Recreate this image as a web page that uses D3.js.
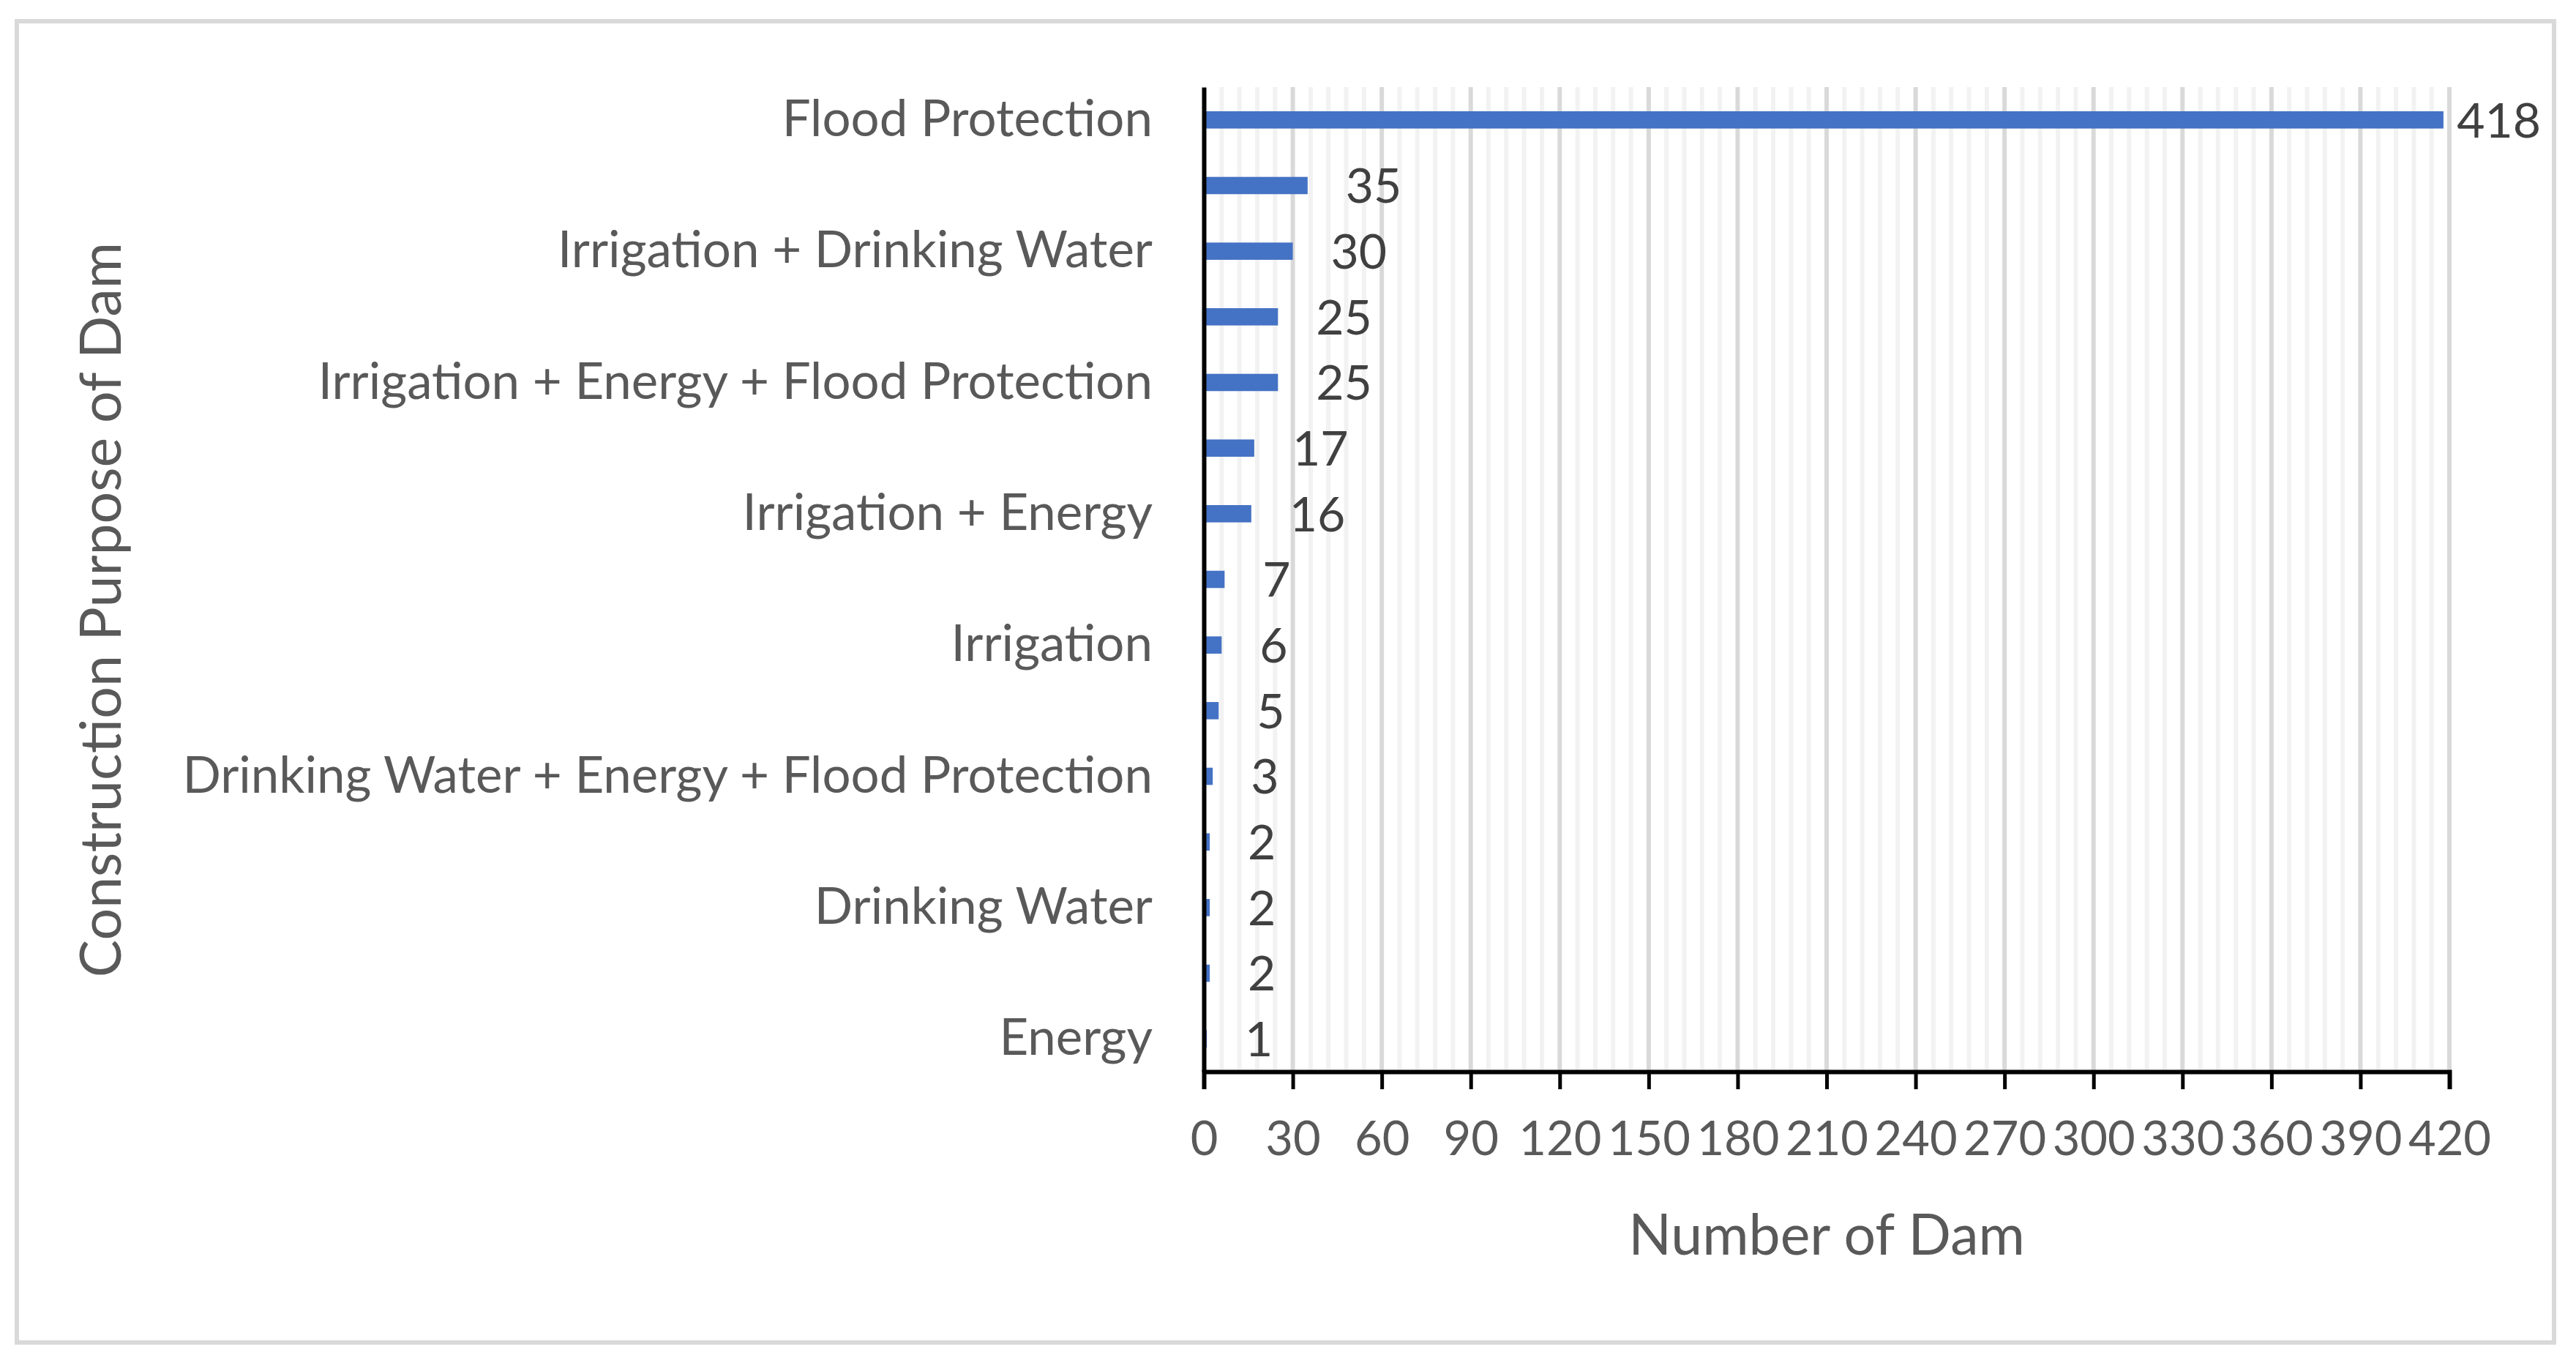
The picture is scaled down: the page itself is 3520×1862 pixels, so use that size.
<!DOCTYPE html>
<html>
<head>
<meta charset="utf-8">
<script src="https://cdn.jsdelivr.net/npm/d3@7"></script>
<style>
  html, body { margin: 0; padding: 0; background: #fff; overflow: hidden; }
  svg { display: block; }
  text { font-family: Lato, "Open Sans", sans-serif; }
</style>
</head>
<body>
<svg id="chart"></svg>
<script>
// categories top to bottom; only every other name is printed on the axis
const categories = [
  'Flood Protection',
  'Irrigation + Flood Protection',
  'Irrigation + Drinking Water',
  'Drinking Water + Flood Protection',
  'Irrigation + Energy + Flood Protection',
  'Energy + Flood Protection',
  'Irrigation + Energy',
  'Irrigation + Drinking Water + Flood Protection',
  'Irrigation',
  'Irrigation + Drinking Water + Energy',
  'Drinking Water + Energy + Flood Protection',
  'Drinking Water + Energy',
  'Drinking Water',
  'Irrigation + Drinking Water + Energy + Flood Protection',
  'Energy'
];
const dams = [418, 35, 30, 25, 25, 17, 16, 7, 6, 5, 3, 2, 2, 2, 1];
const xTicks = [0, 30, 60, 90, 120, 150, 180, 210, 240, 270, 300, 330, 360, 390, 420];
const xMinor = d3.range(0, 421, 6);

const width = 3520, height = 1862;
const margin = { top: 119, right: 173, bottom: 398, left: 1645 };
const innerWidth = width - margin.left - margin.right;
const innerHeight = height - margin.top - margin.bottom;

const svg = d3.select('#chart')
  .attr('width', width)
  .attr('height', height);

// outer chart border
svg.append('rect')
  .attr('x', 23).attr('y', 29)
  .attr('width', 3467).attr('height', 1805)
  .attr('fill', 'none')
  .attr('stroke', '#d9d9d9')
  .attr('stroke-width', 6);

const g = svg.append('g')
  .attr('transform', `translate(${margin.left},${margin.top})`);

const x = d3.scaleLinear().domain([0, 420]).range([0, innerWidth]);
const y = d3.scaleBand().domain(categories).range([0, innerHeight]).paddingInner(0.737).paddingOuter(0.368);

// gridlines
g.selectAll('.minor')
  .data(xMinor.filter(d => d % 30 !== 0))
  .enter().append('line')
  .attr('x1', d => x(d)).attr('x2', d => x(d))
  .attr('y1', 0).attr('y2', innerHeight)
  .attr('stroke', '#f2f2f2')
  .attr('stroke-width', 6);

g.selectAll('.major')
  .data(xTicks.slice(1))
  .enter().append('line')
  .attr('x1', d => x(d)).attr('x2', d => x(d))
  .attr('y1', 0).attr('y2', innerHeight)
  .attr('stroke', '#d9d9d9')
  .attr('stroke-width', 6);

// bars
g.selectAll('.bar')
  .data(dams)
  .enter().append('rect')
  .attr('x', 0)
  .attr('y', (d, i) => y(categories[i]))
  .attr('width', d => x(d))
  .attr('height', y.bandwidth())
  .attr('fill', '#4472c4');

// data labels
g.selectAll('.val')
  .data(dams)
  .enter().append('text')
  .attr('x', d => x(d) + 52)
  .attr('y', (d, i) => y(categories[i]) + y.bandwidth() / 2)
  .attr('dy', '0.36em')
  .attr('font-size', 66)
  .attr('fill', '#404040')
  .text(d => d)
  .each(function () {
    // keep label inside the chart like Excel does
    const w = this.getComputedTextLength();
    const cur = +this.getAttribute('x');
    if (cur + w > innerWidth + 125) this.setAttribute('x', innerWidth + 125 - w);
  });

// x axis
const xAxis = g.append('g')
  .attr('transform', `translate(0,${innerHeight})`)
  .call(d3.axisBottom(x).tickValues(xTicks).tickSize(24).tickPadding(44));
xAxis.select('.domain').attr('stroke', '#000').attr('stroke-width', 6);
xAxis.selectAll('.tick line').attr('stroke', '#000').attr('stroke-width', 5);
xAxis.selectAll('.tick text')
  .attr('font-size', 65)
  .attr('font-family', 'Lato, sans-serif')
  .attr('fill', '#595959');

// y axis
const yAxis = g.append('g')
  .call(d3.axisLeft(y).tickSize(0).tickPadding(70)
    .tickFormat((d, i) => (i % 2 === 0 ? d : '')));
yAxis.select('.domain').attr('stroke', '#000').attr('stroke-width', 6);
yAxis.selectAll('.tick text')
  .attr('font-size', 69)
  .attr('font-family', 'Lato, sans-serif')
  .attr('fill', '#595959');

// axis titles
svg.append('text')
  .attr('x', margin.left + innerWidth / 2)
  .attr('y', 1714)
  .attr('text-anchor', 'middle')
  .attr('font-size', 77)
  .attr('fill', '#595959')
  .text('Number of Dam');

svg.append('text')
  .attr('transform', 'translate(165,833) rotate(-90)')
  .attr('text-anchor', 'middle')
  .attr('font-size', 77)
  .attr('fill', '#595959')
  .text('Construction Purpose of Dam');
</script>
</body>
</html>
